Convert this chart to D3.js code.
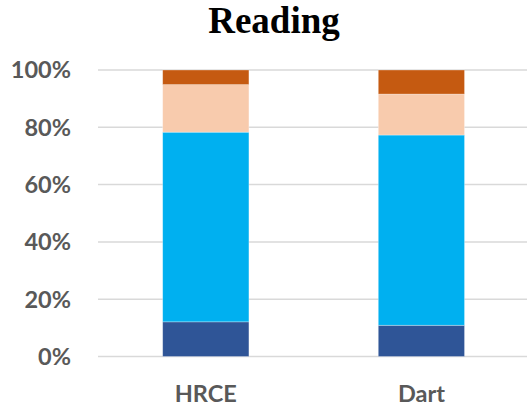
<!DOCTYPE html>
<html>
<head>
<meta charset="utf-8">
<script src="https://cdn.jsdelivr.net/npm/d3@7"></script>
<style>
  body { margin: 0; background: #fff; }
</style>
</head>
<body>
<script>
var categories = ["HRCE", "Dart"];
var seriesNames = ["s1", "s2", "s3", "s4"];
var s1 = [12.1, 10.9];
var s2 = [66.2, 66.4];
var s3 = [16.6, 14.3];
var s4 = [5.1, 8.4];
var yTicks = [0, 20, 40, 60, 80, 100];

var colors = ["#2F5597", "#00B0F0", "#F8CBAD", "#C55A11"];

var width = 527, height = 410;
var plot = {left: 98, right: 529.2, top: 70, bottom: 356.5};

var rows = categories.map(function(c, i) {
    return {cat: c, s1: s1[i], s2: s2[i], s3: s3[i], s4: s4[i]};
});
var stack = d3.stack().keys(seriesNames)(rows);

var x = d3.scaleBand().domain(categories)
    .range([plot.left, plot.right])
    .paddingInner(0.6).paddingOuter(0.3);
var y = d3.scaleLinear().domain([0, 100]).range([plot.bottom, plot.top]);

var svg = d3.select("body").append("svg")
    .attr("width", width)
    .attr("height", height);

// gridlines
svg.append("g").selectAll("line")
    .data(yTicks)
    .enter().append("line")
    .attr("x1", plot.left)
    .attr("x2", width)
    .attr("y1", function(d) { return y(d); })
    .attr("y2", function(d) { return y(d); })
    .attr("stroke", "#D9D9D9")
    .attr("stroke-width", 1.5);

// y axis labels
svg.append("g").selectAll("text")
    .data(yTicks)
    .enter().append("text")
    .attr("x", 71)
    .attr("y", function(d) { return y(d); })
    .attr("dy", "0.36em")
    .attr("text-anchor", "end")
    .attr("font-family", "Lato, sans-serif")
    .attr("font-weight", "bold")
    .attr("font-size", 23.5)
    .attr("fill", "#595959")
    .text(function(d) { return d + "%"; });

// bars
svg.append("g").selectAll("g")
    .data(stack)
    .enter().append("g")
    .attr("fill", function(d, i) { return colors[i]; })
    .selectAll("rect")
    .data(function(d) { return d; })
    .enter().append("rect")
    .attr("x", function(d) { return x(d.data.cat); })
    .attr("width", x.bandwidth())
    .attr("y", function(d) { return y(d[1]); })
    .attr("height", function(d) { return y(d[0]) - y(d[1]); })
    .attr("stroke", "#ffffff")
    .attr("stroke-opacity", 0.4)
    .attr("stroke-width", 0.75);

// x labels
svg.append("g").selectAll("text")
    .data(categories)
    .enter().append("text")
    .attr("x", function(d) { return x(d) + x.bandwidth() / 2; })
    .attr("y", 401.5)
    .attr("text-anchor", "middle")
    .attr("font-family", "Lato, sans-serif")
    .attr("font-weight", "bold")
    .attr("font-size", 23.5)
    .attr("fill", "#595959")
    .text(function(d) { return d; });

// title
svg.append("text")
    .attr("x", 274)
    .attr("y", 33)
    .attr("text-anchor", "middle")
    .attr("font-family", "'Liberation Serif', 'Times New Roman', serif")
    .attr("font-weight", "bold")
    .attr("font-size", 37)
    .attr("fill", "#000")
    .text("Reading");
</script>
</body>
</html>
